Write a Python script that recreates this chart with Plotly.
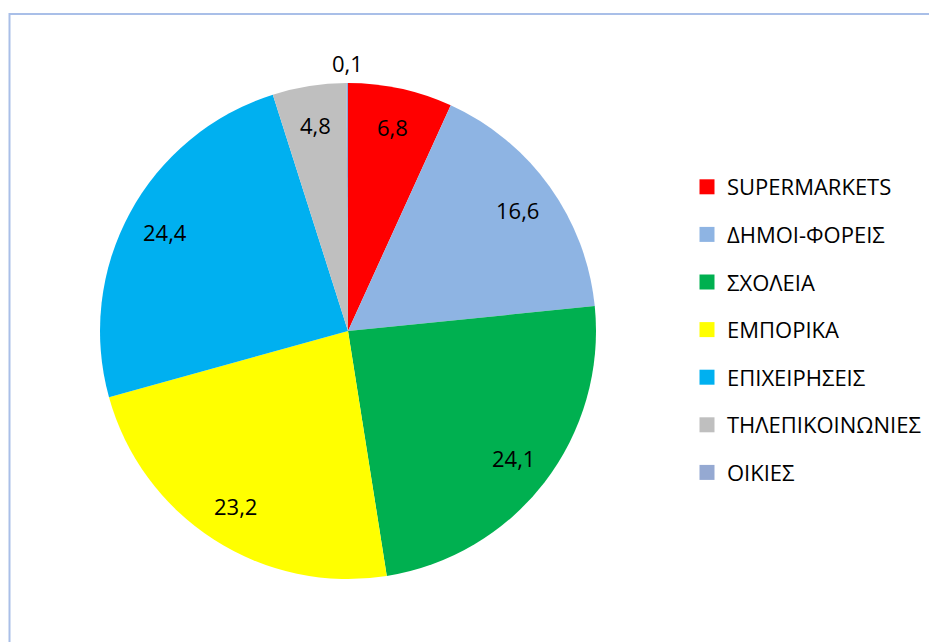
import math
import plotly.graph_objects as go

categories = ["SUPERMARKETS", "ΔΗΜΟΙ-ΦΟΡΕΙΣ", "ΣΧΟΛΕΙΑ", "ΕΜΠΟΡΙΚΑ",
              "ΕΠΙΧΕΙΡΗΣΕΙΣ", "ΤΗΛΕΠΙΚΟΙΝΩΝΙΕΣ", "ΟΙΚΙΕΣ"]
values = [6.8, 16.6, 24.1, 23.2, 24.4, 4.8, 0.1]
colors = ["#FF0000", "#8EB4E3", "#00B050", "#FFFF00", "#00B0F0", "#BFBFBF", "#95A9D2"]

# page body has an 8px margin; figure sized to fit the window
OFF = 8
W, H = 937 - OFF, 642 - OFF
FONT = "Open Sans"
FS = 22

# pie geometry (pixels, window coords minus offset)
cx, cy, R = 348 - OFF, 331 - OFF, 248
dom_x = [(cx - R) / W, (cx + R) / W]
dom_y = [1 - (cy + R) / H, 1 - (cy - R) / H]

fig = go.Figure()
fig.add_trace(go.Pie(
    labels=categories, values=values, sort=False, direction="clockwise",
    rotation=0, marker=dict(colors=colors, line=dict(width=0)),
    textinfo="none", showlegend=False, domain=dict(x=dom_x, y=dom_y),
    hoverinfo="label+value",
))

# data labels placed at slice mid-angles computed from the values
total = sum(values)
cum = 0.0
annotations = []
for v in values:
    mid = (cum + v / 2) / total * 2 * math.pi
    cum += v
    frac = 0.84 if v >= 1 else 1.08
    px = cx + frac * R * math.sin(mid)
    py = cy - frac * R * math.cos(mid)
    annotations.append(dict(
        x=px / W, y=1 - py / H, xref="paper", yref="paper",
        text=f"{v:.1f}".replace(".", ","), showarrow=False,
        font=dict(family=FONT, size=FS, color="#000000"),
        xanchor="center", yanchor="middle",
    ))

# legend entries
for name, c in zip(categories, colors):
    fig.add_trace(go.Scatter(
        x=[None], y=[None], mode="markers", name=name, legendgroup=name,
        marker=dict(symbol="square", size=15, color=c),
    ))

fig.update_layout(
    width=W, height=H, margin=dict(l=0, r=0, t=0, b=0),
    paper_bgcolor="white", plot_bgcolor="white",
    separators=",.",
    xaxis=dict(visible=False), yaxis=dict(visible=False),
    font=dict(family=FONT, size=FS, color="#000000"),
    legend=dict(x=(687 - OFF) / W, y=1 - (166 - OFF) / H, xanchor="left", yanchor="top",
                tracegroupgap=16, itemwidth=30,
                font=dict(family=FONT, size=FS, color="#000000"),
                bgcolor="rgba(0,0,0,0)"),
    annotations=annotations,
    shapes=[dict(type="rect", xref="paper", yref="paper",
                 x0=(9.5 - OFF) / W, x1=1.2, y0=-0.2, y1=1 - (14 - OFF) / H,
                 line=dict(color="#A9BFE8", width=2), layer="below")],
)

fig.write_html("out.html")
